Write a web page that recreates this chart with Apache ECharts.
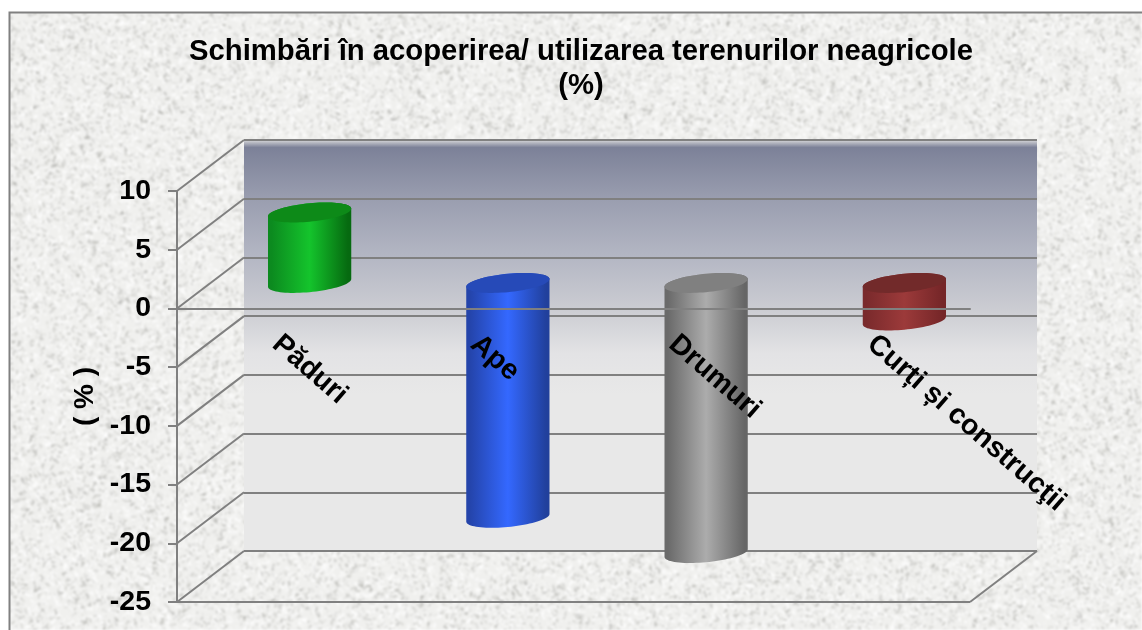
<!DOCTYPE html>
<html>
<head>
<meta charset="utf-8">
<style>html,body{margin:0;padding:0;background:#fff}#c{width:1142px;height:630px}</style>
<script src="https://cdn.jsdelivr.net/npm/echarts@6/dist/echarts.min.js"></script>
</head>
<body>
<div id="c"></div>
<script>
const categories = ['Păduri', 'Ape', 'Drumuri', 'Curți și construcţii'];
const values = [6, -20, -23, -3.2];
const yTicks = [10, 5, 0, -5, -10, -15, -20, -25];
const titleLines = ['Schimbări în acoperirea/ utilizarea terenurilor neagricole', '(%)'];
const yName = '( % )';
const bodyEdgeL = ['#0c8a1f', '#2444aa', '#6a6a6a', '#7a2a2c'];
const bodyMid = ['#14c42c', '#3468ff', '#acacac', '#9c3a3a'];
const bodyEdgeR = ['#066a10', '#21409c', '#666666', '#752628'];
const capColor = ['#0d8a18', '#264ab8', '#808080', '#722a2a'];

const DX = 67, DY = -51, LINE = '#808080';

function marble() {
  const w = 1142, h = 630;
  const cv = document.createElement('canvas'); cv.width = w; cv.height = h;
  const g = cv.getContext('2d');
  g.fillStyle = '#f0f0ee'; g.fillRect(0, 0, w, h);
  let s = 12345;
  const r = () => (s = (s * 1664525 + 1013904223) >>> 0) / 4294967296;
  for (let i = 0; i < 70000; i++) {
    const x = r() * w, y = r() * h, a = r() * Math.PI * 2, l = 1.5 + r() * 4;
    const dark = r() < 0.45;
    g.strokeStyle = dark ? 'rgba(150,150,145,' + (0.12 + r() * 0.33) + ')' : 'rgba(255,255,255,' + (0.35 + r() * 0.55) + ')';
    g.lineWidth = 0.8 + r() * 1.4;
    g.beginPath(); g.moveTo(x, y); g.lineTo(x + Math.cos(a) * l, y + Math.sin(a) * l); g.stroke();
  }
  const out = document.createElement('canvas'); out.width = w; out.height = h;
  const o = out.getContext('2d');
  o.filter = 'blur(0.8px)'; o.drawImage(cv, 0, 0);
  return out;
}

function ring(cx, cy, rx, ry, k, from, to, n) {
  const p = [];
  for (let i = 0; i <= n; i++) {
    const t = from + (to - from) * i / n;
    p.push([cx + rx * Math.cos(t), cy + ry * Math.sin(t) - k * rx * Math.cos(t)]);
  }
  return p;
}

function renderCylinder(params, api) {
  const i = api.value(0), v = api.value(1);
  const rx = api.size([1, 0])[0] * 0.21, ry = 9.2, k = 0.093;
  const cx = api.coord([i, 0])[0] + DX / 2;
  const topY = api.coord([i, Math.max(v, 0)])[1] + DY / 2;
  const botY = api.coord([i, Math.min(v, 0)])[1] + DY / 2;
  const lower = ring(cx, botY, rx, ry, k, 0, Math.PI, 40);
  const upper = ring(cx, topY, rx, ry, k, Math.PI, 2 * Math.PI, 40);
  return {
    type: 'group',
    children: [
      { type: 'polygon', shape: { points: lower.concat(upper) },
        style: { fill: new echarts.graphic.LinearGradient(0, 0, 1, 0, [
          { offset: 0, color: bodyEdgeL[i] }, { offset: 0.04, color: bodyEdgeL[i] },
          { offset: 0.5, color: bodyMid[i] },
          { offset: 0.96, color: bodyEdgeR[i] }, { offset: 1, color: bodyEdgeR[i] }]) } },
      { type: 'polygon', shape: { points: ring(cx, topY, rx, ry, k, 0, 2 * Math.PI, 80) },
        style: { fill: capColor[i] } }
    ]
  };
}

function renderDiagonal(params, api) {
  const cs = params.coordSys;
  const y = api.coord([0, api.value(0)])[1];
  return { type: 'line', shape: { x1: cs.x, y1: y, x2: cs.x + DX, y2: y + DY },
    style: { stroke: LINE, lineWidth: 2, fill: null } };
}

function renderFloor(params, api) {
  const cs = params.coordSys;
  const y = api.coord([0, api.value(0)])[1];
  const st = { stroke: LINE, lineWidth: 2, fill: null };
  return { type: 'group', children: [
    { type: 'line', shape: { x1: cs.x, y1: y, x2: cs.x + cs.width, y2: y }, style: st },
    { type: 'line', shape: { x1: cs.x + cs.width, y1: y, x2: cs.x + cs.width + DX, y2: y + DY }, style: st }
  ] };
}

const chart = echarts.init(document.getElementById('c'), null, { renderer: 'canvas' });
chart.setOption({
  animation: false,
  backgroundColor: '#ffffff',
  textStyle: { fontFamily: '"Liberation Sans", Arial, sans-serif' },
  graphic: [{
    type: 'rect', z: -100, silent: true,
    shape: { x: 9.5, y: 12.5, width: 1140, height: 630 },
    style: { fill: { image: marble(), repeat: 'no-repeat' }, stroke: LINE, lineWidth: 2 }
  }],
  title: {
    text: titleLines.join('\n'), left: 576, top: 29.5, textAlign: 'center',
    textStyle: { fontSize: 24.5 * 784 / 656, fontWeight: 'bold', color: '#000', lineHeight: 34,
      fontFamily: '"Liberation Sans", Arial, sans-serif' }
  },
  grid: [
    { left: 177, width: 793, top: 191, height: 411, z: 3, outerBoundsMode: 'none', containLabel: false },
    { left: 244, width: 793, top: 140, height: 411, z: 1, show: true, borderWidth: 0, outerBoundsMode: 'none', containLabel: false,
      backgroundColor: new echarts.graphic.LinearGradient(0, 0, 0, 1, [
        { offset: 0, color: '#d8d8da' }, { offset: 0.018, color: '#7c8198' },
        { offset: 0.14, color: '#999daf' }, { offset: 0.28, color: '#b3b6c3' },
        { offset: 0.41, color: '#cbccd2' }, { offset: 0.52, color: '#e3e3e5' },
        { offset: 0.62, color: '#e8e8e8' }, { offset: 1, color: '#e8e8e8' }]) }
  ],
  xAxis: [
    { type: 'category', gridIndex: 0, data: categories, z: 10,
      axisLine: { onZero: true, lineStyle: { color: LINE, width: 2 } }, axisTick: { show: false },
      axisLabel: { interval: 0, rotate: -41, align: 'left', verticalAlign: 'middle', margin: -261.6,
        color: '#000', fontWeight: 'bold', fontSize: 28.6 } },
    { type: 'category', gridIndex: 1, data: categories, show: false }
  ],
  yAxis: [
    { type: 'value', gridIndex: 0, min: -25, max: 10, interval: 5, z: 9,
      name: yName, nameLocation: 'middle', nameGap: 78, nameRotate: 90,
      nameTextStyle: { color: '#000', fontWeight: 'bold', fontSize: 28 },
      axisLine: { show: true, lineStyle: { color: LINE, width: 2 } },
      axisTick: { show: true, length: 9, lineStyle: { color: LINE, width: 2 } },
      axisLabel: { margin: 26, color: '#000', fontWeight: 'bold', fontSize: 28.5 },
      splitLine: { show: false } },
    { type: 'value', gridIndex: 1, min: -25, max: 10, interval: 5, z: 2,
      axisLine: { show: false }, axisTick: { show: false }, axisLabel: { show: false },
      splitLine: { show: true, lineStyle: { color: LINE, width: 2 } } }
  ],
  series: [
    { type: 'custom', name: 'diagonals', xAxisIndex: 0, yAxisIndex: 0, z: 3, silent: true,
      renderItem: renderDiagonal, data: yTicks.map(t => [t]), encode: { y: 0 }, clip: false },
    { type: 'custom', name: 'floor', xAxisIndex: 0, yAxisIndex: 0, z: 3, silent: true,
      renderItem: renderFloor, data: [[yTicks[yTicks.length - 1]]], encode: { y: 0 }, clip: false },
    { type: 'custom', name: 'values', xAxisIndex: 0, yAxisIndex: 0, z: 5, silent: true,
      renderItem: renderCylinder, data: values.map((v, i) => [i, v]), encode: { x: 0, y: 1 }, clip: false }
  ]
});
</script>
</body>
</html>
